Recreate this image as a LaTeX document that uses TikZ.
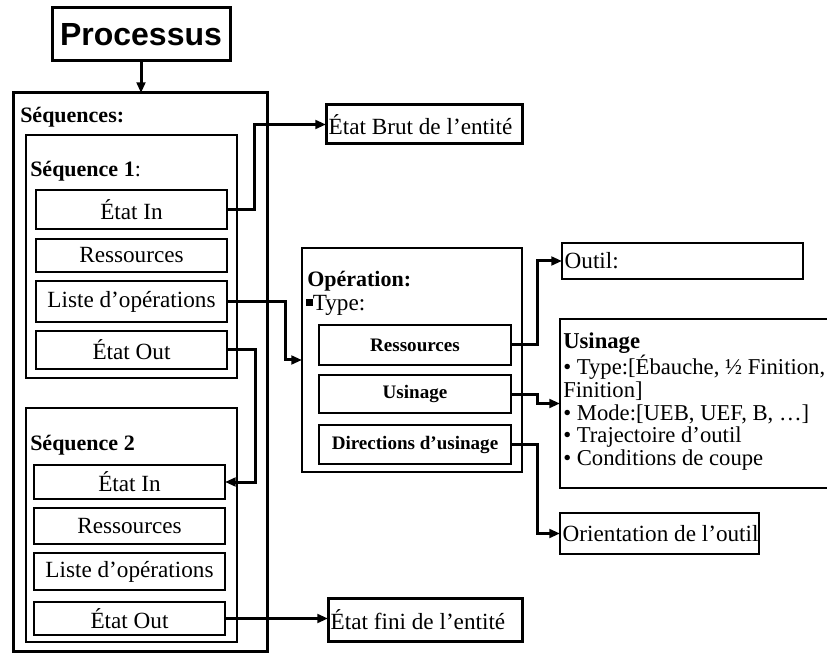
\documentclass[tikz,border=0pt]{standalone}
\usepackage{fontspec}
\setmainfont{Liberation Serif}
\newfontfamily\procfont{Liberation Sans}
\usetikzlibrary{arrows.meta}
\begin{document}
\begin{tikzpicture}[x=0.75pt,y=-0.75pt,
  sz/.style 2 args={minimum width=#1*0.75pt, minimum height=#2*0.75pt},
  basebox/.style={draw, inner sep=0pt, outer sep=0pt, anchor=north west, font=\fontsize{17.4}{20}\selectfont},
  heavybox/.style={basebox, line width=2.25pt},
  groupbox/.style={basebox, line width=1.5pt},
  itembox/.style={basebox, line width=1.9pt},
  bolditem/.style={itembox, font=\fontsize{14.3}{17}\selectfont\bfseries},
  leftbox/.style 2 args={basebox, minimum height=#2*0.75pt, text width=#1*0.75pt-4pt, inner xsep=2pt, align=flush left},
  lbl/.style={inner sep=0pt, anchor=base west, font=\fontsize{16.5}{19}\selectfont},
  conn/.style={line width=2.25pt, -{Triangle[length=8pt,width=6.5pt]}}
]
\useasboundingbox (0,0) rectangle (827,655);

% Processus
\node[heavybox, sz={178}{53}, font=\procfont\bfseries\fontsize{24}{28}\selectfont] (proc) at (52,8) {Processus};

% outer container
\node[heavybox, sz={254}{558}] (outer) at (13,93) {};
\node[lbl, font=\fontsize{16.5}{19}\selectfont\bfseries] (seqs) at (20,123) {Séquences:};

% Sequence 1
\node[groupbox, sz={211}{243}] (seq1) at (26,135) {};
\node[lbl] (seq1t) at (30,177) {\textbf{Séquence 1}:};
\node[itembox, sz={191}{39}] (s1in) at (36,190) {État In};
\node[itembox, sz={191}{33}] (s1res) at (36,239) {Ressources};
\node[itembox, sz={191}{41}] (s1list) at (36,281) {Liste d’opérations};
\node[itembox, sz={191}{38}] (s1out) at (36,331) {État Out};

% Sequence 2
\node[groupbox, sz={211}{234}] (seq2) at (26,408) {};
\node[lbl] (seq2t) at (30,450) {\textbf{Séquence 2}};
\node[itembox, sz={191}{34}] (s2in) at (34,465) {État In};
\node[itembox, sz={191}{36}] (s2res) at (34,508) {Ressources};
\node[itembox, sz={191}{37}] (s2list) at (34,553) {Liste d’opérations};
\node[itembox, sz={191}{33}] (s2out) at (34,602) {État Out};

% states
\node[heavybox, leftbox={196}{39}] (brut) at (326,105) {\mbox{État Brut de l’entité}};
\node[heavybox, leftbox={194}{43}] (fini) at (328,598) {\mbox{État fini de l’entité}};

% Operation
\node[groupbox, sz={220}{224}] (op) at (302,248) {};
\node[lbl, font=\fontsize{16.5}{19}\selectfont\bfseries] (opt) at (307,287) {Opération:};
\node[lbl, font=\fontsize{17.4}{20}\selectfont] (typet) at (306,311) {\raisebox{0.22em}{\rule{0.28em}{0.28em}}Type:};
\node[bolditem, sz={192}{40}] (opres) at (319,325) {Ressources};
\node[bolditem, sz={192}{38}] (opusi) at (319,375) {Usinage};
\node[bolditem, sz={192}{39}] (opdir) at (319,425) {Directions d’usinage};

% right side
\node[itembox, leftbox={241}{36}] (outil) at (562,243) {Outil:};
\node[itembox, sz={272}{169}] (usd) at (560,319) {};
\node[inner sep=0pt, align=flush left, anchor=north west, font=\fontsize{17}{17}\selectfont] (usdt) at (563,333)
  {\textbf{Usinage}\\
   • Type:[Ébauche, ½ Finition,\\
   Finition]\\
   • Mode:[UEB, UEF, B, …]\\
   • Trajectoire d’outil\\
   • Conditions de coupe};
\node[itembox, leftbox={199}{41}] (orient) at (560,513) {\mbox{Orientation de l’outil}};

% connectors
\draw[conn] (proc.south) -- (proc.south |- outer.north);
\draw[conn] (s1in.east) -- ++(27,0) |- (brut.west);
\draw[conn] (s1list.east) -- ++(58,0) |- (op.west);
\draw[conn] (s1out.east) -- ++(28,0) |- (s2in.east);
\draw[conn] (s2out.east) -- (fini.west |- s2out.east);
\draw[conn] (opres.east) -- ++(26,0) |- (outil.west);
\draw[conn] (opusi.east) -- ++(26,0) |- (usd.west);
\draw[conn] (opdir.east) -- ++(26,0) |- (orient.west);
\end{tikzpicture}
\end{document}
